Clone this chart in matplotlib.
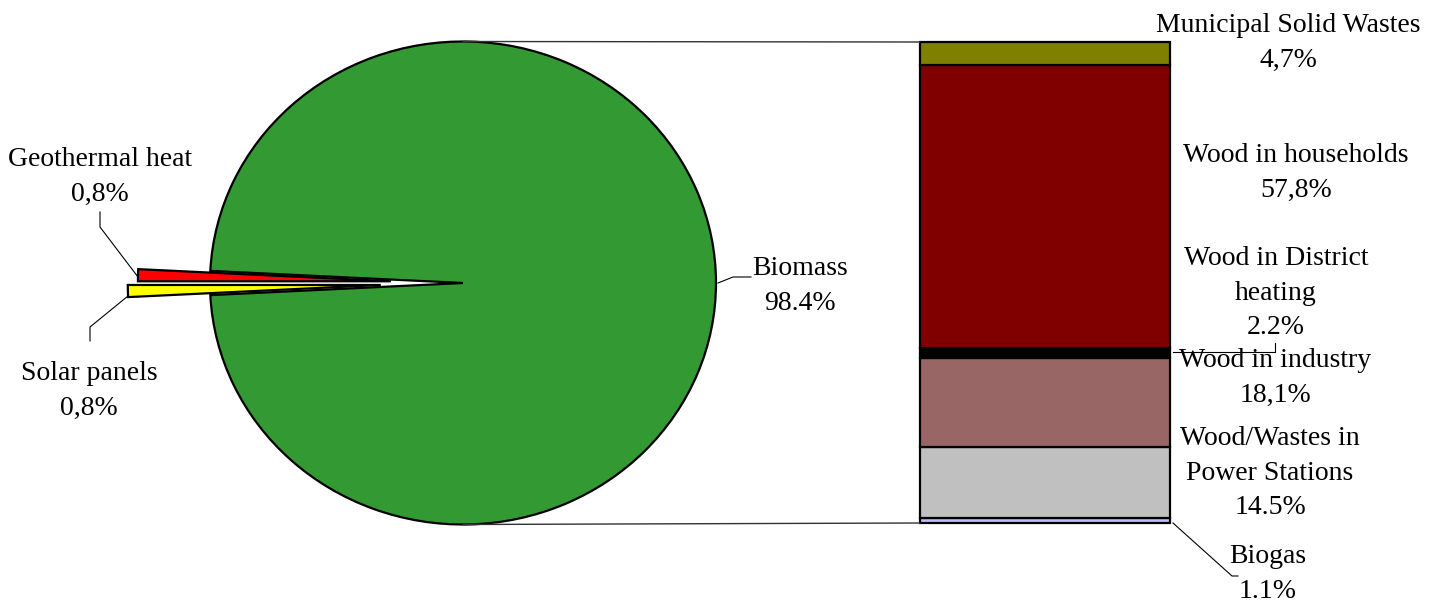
import matplotlib.pyplot as plt
from matplotlib.patches import ConnectionPatch

plt.rcParams['font.family'] = ['Liberation Serif', 'DejaVu Serif']

# pie data
pie_names = ['Biomass', 'Geothermal heat', 'Solar panels']
pie_values = [98.4, 0.8, 0.8]
pie_labels = ['98.4%', '0,8%', '0,8%']
pie_colors = ['#339933', '#FF0000', '#FFFF00']
pie_explode = [0, 0.285, 0.325]

# bar data (top to bottom)
bar_names = ['Municipal Solid Wastes', 'Wood in households', 'Wood in District\nheating',
             'Wood in industry', 'Wood/Wastes in\nPower Stations', 'Biogas']
bar_values = [4.7, 57.8, 2.2, 18.1, 14.5, 1.1]
bar_labels = ['4,7%', '57,8%', '2.2%', '18,1%', '14.5%', '1.1%']
bar_colors = ['#808000', '#800000', '#000000', '#996666', '#C0C0C0', '#BDBDFF']

W, H = 1439, 606
fig = plt.figure(figsize=(W / 100, H / 100), dpi=100)

# pie, full-figure axes, elliptical (aspect auto)
cx, cy, rx, ry = 463, 283, 253, 241.5
axp = fig.add_axes([0, 0, 1, 1])
start = 180 + 360 * pie_values[2] / sum(pie_values)
axp.pie(pie_values, colors=pie_colors, explode=pie_explode, startangle=start,
        counterclock=True, wedgeprops=dict(edgecolor='black', linewidth=1.6))
axp.set_aspect('auto')
axp.set_xlim(-cx / rx, (W - cx) / rx)
axp.set_ylim(-(H - cy) / ry, cy / ry)
axp.axis('off')

# stacked bar
total = sum(bar_values)
axb = fig.add_axes([920 / W, (H - 523) / H, 250 / W, 481 / H])
bottom = 0
for v, c in zip(bar_values[::-1], bar_colors[::-1]):
    axb.bar(0, v, bottom=bottom, width=1, color=c, edgecolor='black',
            linewidth=1.6, clip_on=False)
    bottom += v
axb.set_xlim(-0.5, 0.5)
axb.set_ylim(0, total)
axb.axis('off')

# connecting lines
for ya, yb in [(1, total), (-1, 0)]:
    con = ConnectionPatch(xyA=(0, ya), coordsA=axp.transData,
                          xyB=(-0.5, yb), coordsB=axb.transData,
                          color='#333333', linewidth=1)
    fig.add_artist(con)

# overlay for labels in pixel coords
ax = fig.add_axes([0, 0, 1, 1])
ax.set_xlim(0, W)
ax.set_ylim(H, 0)
ax.axis('off')
fs = 20
ls = 1.5

pie_pos = [(800, 286), (100, 177), (89, 391)]
for n, l, (x, y) in zip(pie_names, pie_labels, pie_pos):
    ax.text(x, y, n + '\n' + l, ha='center', va='center', fontsize=fs, linespacing=ls)

bar_pos = [(1288, 43), (1296, 173), (1276, 293), (1275, 378), (1270, 473), (1268, 574)]
for n, l, (x, y) in zip(bar_names, bar_labels, bar_pos):
    ax.text(x, y, n + '\n' + l, ha='center', va='center', fontsize=fs, linespacing=ls)

leaders = [
    [(100, 212), (100, 227), (138, 277)],
    [(128, 296), (90, 327), (90, 341)],
    [(718, 283), (733, 277), (751, 277)],
    [(1173, 352), (1275, 352), (1275, 343)],
    [(1173, 523), (1232, 576), (1238, 576)],
]
for pts in leaders:
    xs, ys = zip(*pts)
    ax.plot(xs, ys, color='black', linewidth=0.8)

fig.savefig('out.png', dpi=100)
